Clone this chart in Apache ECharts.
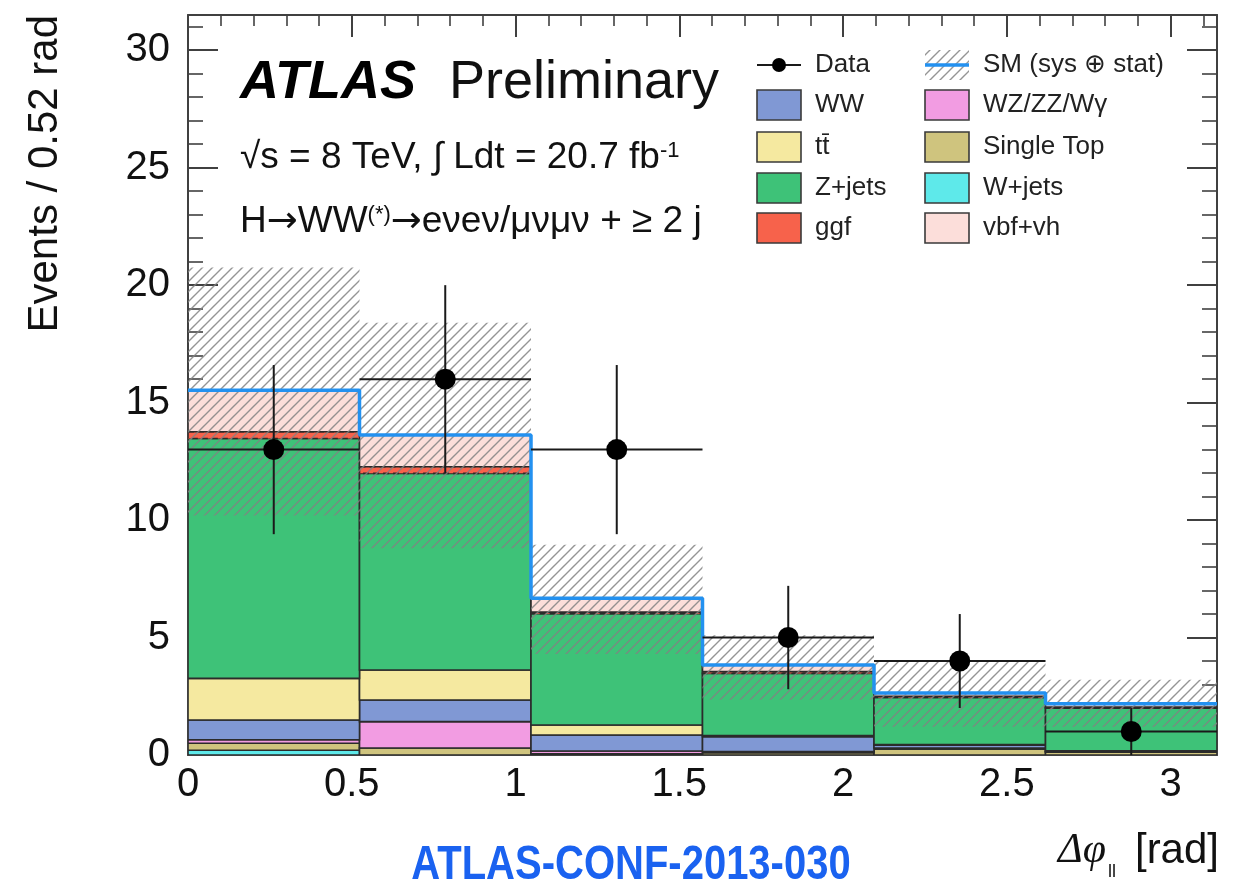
<!DOCTYPE html>
<html>
<head>
<meta charset="utf-8">
<script src="https://cdn.jsdelivr.net/npm/echarts@6/dist/echarts.min.js"></script>
<style>html,body{margin:0;padding:0;background:#fff}#c{width:1242px;height:883px}</style>
</head>
<body>
<div id="c"></div>
<script>
// ---------------- data ----------------
const binEdges   = [0, 0.5236, 1.0472, 1.5708, 2.0944, 2.618, 3.1416];
const wjets      = [0.20, 0.00, 0.00, 0.00, 0.00, 0.00];
const singleTop  = [0.30, 0.30, 0.05, 0.10, 0.25, 0.12];
const wzzzwg     = [0.15, 1.12, 0.12, 0.05, 0.05, 0.02];
const ww         = [0.84, 0.92, 0.68, 0.63, 0.12, 0.02];
const ttbar      = [1.77, 1.28, 0.43, 0.05, 0.02, 0.02];
const zjets      = [10.21, 8.37, 4.73, 2.64, 2.01, 1.81];
const ggf        = [0.29, 0.28, 0.07, 0.08, 0.05, 0.05];
const vbfvh      = [1.77, 1.35, 0.59, 0.28, 0.14, 0.14];
const bandLow    = [10.2, 8.8, 4.3, 2.35, 1.2, 1.2];
const bandHigh   = [20.75, 18.4, 8.95, 5.1, 4.0, 3.2];
const dataCounts = [13, 16, 13, 5, 4, 1];
const dataErrUp  = [3.6, 4.0, 3.6, 2.2, 2.0, 1.0];
const dataErrDn  = [3.6, 4.0, 3.6, 2.2, 2.0, 1.0];
const xMax = 3.1416, yMax = 31.5;

// ---------------- styles ----------------
const FONT = '"Liberation Sans", Arial, Helvetica, sans-serif';
const AX = '#404040';
const layers = [
  {name: 'W+jets',     vals: wjets,     color: '#5ee9ea'},
  {name: 'Single Top', vals: singleTop, color: '#cfc47e'},
  {name: 'WZ/ZZ/Wγ',   vals: wzzzwg,    color: '#f29ce2'},
  {name: 'WW',         vals: ww,        color: '#8098d4'},
  {name: 'tt\u0304',   vals: ttbar,     color: '#f5e9a0'},
  {name: 'Z+jets',     vals: zjets,     color: '#3ec278'},
  {name: 'ggf',        vals: ggf,       color: '#f7624b', dash: true},
  {name: 'vbf+vh',     vals: vbfvh,     color: '#fcdeda'}
];

function makeHatch() {
  const s = 10;
  const c = document.createElement('canvas');
  c.width = s; c.height = s;
  const g = c.getContext('2d');
  g.strokeStyle = 'rgba(130,130,130,0.85)';
  g.lineWidth = 1.4;
  g.beginPath();
  g.moveTo(0, s); g.lineTo(s, 0);
  g.moveTo(-s / 2, s / 2); g.lineTo(s / 2, -s / 2);
  g.moveTo(s / 2, s * 1.5); g.lineTo(s * 1.5, s / 2);
  g.stroke();
  return c;
}
const hatch = makeHatch();

// ---------------- build series ----------------
const nb = binEdges.length - 1;
const cum = new Array(nb).fill(0);
const series = [];
layers.forEach(L => {
  const d = [];
  for (let i = 0; i < nb; i++) {
    const lo = cum[i], hi = cum[i] + L.vals[i];
    d.push([binEdges[i], binEdges[i + 1], lo, hi]);
    cum[i] = hi;
  }
  series.push({
    type: 'custom', name: L.name, clip: true, data: d,
    renderItem: (p, api) => {
      const a = api.coord([api.value(0), api.value(3)]);
      const b = api.coord([api.value(1), api.value(2)]);
      return {type: 'rect',
        shape: {x: a[0], y: a[1], width: b[0] - a[0], height: b[1] - a[1]},
        style: {fill: L.color, stroke: '#2b2b2b', lineWidth: 1.6, lineDash: L.dash ? [6, 4] : null}};
    }
  });
});
const totals = cum.slice();

// uncertainty band
series.push({
  type: 'custom', name: 'band', clip: true,
  data: bandLow.map((v, i) => [binEdges[i], binEdges[i + 1], v, bandHigh[i]]),
  renderItem: (p, api) => {
    const a = api.coord([api.value(0), api.value(3)]);
    const b = api.coord([api.value(1), api.value(2)]);
    return {type: 'rect',
      shape: {x: a[0], y: a[1], width: b[0] - a[0], height: b[1] - a[1]},
      style: {fill: {image: hatch, repeat: 'repeat'}, stroke: null}};
  }
});

// SM total step line
const smLine = [];
for (let i = 0; i < nb; i++) {
  smLine.push([binEdges[i], totals[i]]);
  smLine.push([binEdges[i + 1], totals[i]]);
}
series.push({
  type: 'line', name: 'SM', data: smLine, showSymbol: false, symbol: 'none',
  lineStyle: {color: '#2391f0', width: 3.5}, z: 5, silent: true
});

// data points
series.push({
  type: 'custom', name: 'Data', z: 6,
  data: dataCounts.map((v, i) => [binEdges[i], binEdges[i + 1], v, v - dataErrDn[i], v + dataErrUp[i]]),
  renderItem: (p, api) => {
    const x0 = api.value(0), x1 = api.value(1), y = api.value(2);
    const xc = (x0 + x1) / 2;
    const pl = api.coord([x0, y]), pr = api.coord([x1, y]), pc = api.coord([xc, y]);
    const pt = api.coord([xc, api.value(4)]), pb = api.coord([xc, api.value(3)]);
    return {type: 'group', children: [
      {type: 'line', shape: {x1: pl[0], y1: pl[1], x2: pr[0], y2: pr[1]}, style: {stroke: '#1a1a1a', lineWidth: 2}},
      {type: 'line', shape: {x1: pt[0], y1: pt[1], x2: pb[0], y2: pb[1]}, style: {stroke: '#1a1a1a', lineWidth: 2}},
      {type: 'circle', shape: {cx: pc[0], cy: pc[1], r: 10.5}, style: {fill: '#000'}}
    ]};
  }
});

// ---------------- legend & texts (graphic) ----------------
const graphics = [];
const legendCols = [
  {boxX: 757, textX: 815, items: ['Data', 'WW', 'tt\u0304', 'Z+jets', 'ggf']},
  {boxX: 925, textX: 983, items: ['SM (sys \u2295 stat)', 'WZ/ZZ/Wγ', 'Single Top', 'W+jets', 'vbf+vh']}
];
const rowY = [65, 105, 147, 188, 228];
legendCols.forEach(col => {
  col.items.forEach((name, r) => {
    const cy = rowY[r];
    if (name === 'Data') {
      graphics.push({type: 'line', shape: {x1: col.boxX, y1: cy, x2: col.boxX + 44, y2: cy}, style: {stroke: '#1a1a1a', lineWidth: 2}});
      graphics.push({type: 'circle', shape: {cx: col.boxX + 22, cy: cy, r: 7}, style: {fill: '#000'}});
    } else if (name.indexOf('SM') === 0) {
      graphics.push({type: 'rect', shape: {x: col.boxX, y: cy - 15, width: 44, height: 30}, style: {fill: {image: hatch, repeat: 'repeat'}}});
      graphics.push({type: 'line', shape: {x1: col.boxX, y1: cy, x2: col.boxX + 44, y2: cy}, style: {stroke: '#2391f0', lineWidth: 3.5}});
    } else {
      const L = layers.find(l => l.name === name);
      graphics.push({type: 'rect', shape: {x: col.boxX, y: cy - 15, width: 44, height: 30},
        style: {fill: L.color, stroke: '#3a3a3a', lineWidth: 1.6}});
    }
    graphics.push({type: 'text', x: col.textX, y: cy,
      style: {text: name, font: '26px ' + FONT, fill: '#222', align: 'left', verticalAlign: 'middle'}});
  });
});

// ATLAS label
graphics.push({type: 'text', x: 240, y: 83,
  style: {text: 'ATLAS', font: 'italic bold 54px ' + FONT, fill: '#000', align: 'left', verticalAlign: 'middle'}});
graphics.push({type: 'text', x: 449, y: 83,
  style: {text: 'Preliminary', font: '54px ' + FONT, fill: '#111', align: 'left', verticalAlign: 'middle'}});
graphics.push({type: 'text', x: 240, y: 158,
  style: {text: '√s = 8 TeV, ∫ Ldt = 20.7 fb{sup|-1}', font: '37px ' + FONT, fill: '#111', align: 'left', verticalAlign: 'middle',
    rich: {sup: {font: '22px ' + FONT, fill: '#111', verticalAlign: 'top', padding: [0, 0, 14, 0]}}}});
graphics.push({type: 'text', x: 240, y: 222,
  style: {text: 'H{ar|→}WW{sup|(*)}{ar|→}eνeν/μνμν + ≥ 2 j', font: '37px ' + FONT, fill: '#111', align: 'left', verticalAlign: 'middle',
    rich: {sup: {font: '22px ' + FONT, fill: '#111', verticalAlign: 'top', padding: [0, 0, 14, 0]},
           ar: {font: '37px "DejaVu Sans", sans-serif', fill: '#111'}}}});

// axis titles
graphics.push({type: 'text', x: 45, y: 15, rotation: Math.PI / 2,
  style: {text: 'Events / 0.52 rad', font: '42px ' + FONT, fill: '#111', align: 'right', verticalAlign: 'middle'}});
graphics.push({type: 'text', x: 1106, y: 851,
  style: {text: 'Δφ', font: 'italic 42px "Liberation Serif", serif', fill: '#111', align: 'right', verticalAlign: 'middle'}});
graphics.push({type: 'text', x: 1108, y: 872,
  style: {text: 'll', font: '18px ' + FONT, fill: '#111', align: 'left', verticalAlign: 'middle'}});
graphics.push({type: 'text', x: 1219, y: 851,
  style: {text: '[rad]', font: '42px ' + FONT, fill: '#111', align: 'right', verticalAlign: 'middle'}});
// conference note label
graphics.push({type: 'text', x: 631, y: 866, scaleY: 1.2,
  style: {text: 'ATLAS-CONF-2013-030', font: 'bold 40px ' + FONT, fill: '#1a62f0', align: 'center', verticalAlign: 'middle'}});

// ---------------- axes ----------------
function xFmt(v) { return Math.abs(v * 2 - Math.round(v * 2)) < 1e-6 ? String(+v.toFixed(1)) : ''; }
function yFmt(v) { return Math.abs(v / 5 - Math.round(v / 5)) < 1e-6 ? String(Math.round(v)) : ''; }
const lineCommon = {show: true, onZero: false, lineStyle: {color: AX, width: 2}};
function mkX(pos, showLabel) {
  return {type: 'value', position: pos, min: 0, max: xMax, interval: 0.5,
    axisLine: lineCommon,
    axisTick: {show: true, inside: true, length: 22, lineStyle: {color: AX, width: 2}},
    minorTick: {show: true, splitNumber: 5, length: 11, lineStyle: {color: AX, width: 1.6}},
    splitLine: {show: false}, minorSplitLine: {show: false},
    axisLabel: {show: showLabel, formatter: xFmt, fontSize: 40, fontFamily: FONT, color: '#111', margin: 10}};
}
function mkY(pos, showLabel) {
  return {type: 'value', position: pos, min: 0, max: yMax, interval: 5,
    axisLine: lineCommon,
    axisTick: {show: true, inside: true, length: 30, lineStyle: {color: AX, width: 2}},
    minorTick: {show: true, splitNumber: 5, length: 15, lineStyle: {color: AX, width: 1.6}},
    splitLine: {show: false}, minorSplitLine: {show: false},
    axisLabel: {show: showLabel, formatter: yFmt, fontSize: 40, fontFamily: FONT, color: '#111', margin: 18}};
}

const chart = echarts.init(document.getElementById('c'), null, {renderer: 'canvas'});
chart.setOption({
  animation: false,
  backgroundColor: '#fff',
  grid: {left: 188, right: 25, top: 15, bottom: 128, containLabel: false},
  xAxis: [mkX('bottom', true), mkX('top', false)],
  yAxis: [mkY('left', true), mkY('right', false)],
  series: series,
  graphic: {elements: graphics}
});
</script>
</body>
</html>
